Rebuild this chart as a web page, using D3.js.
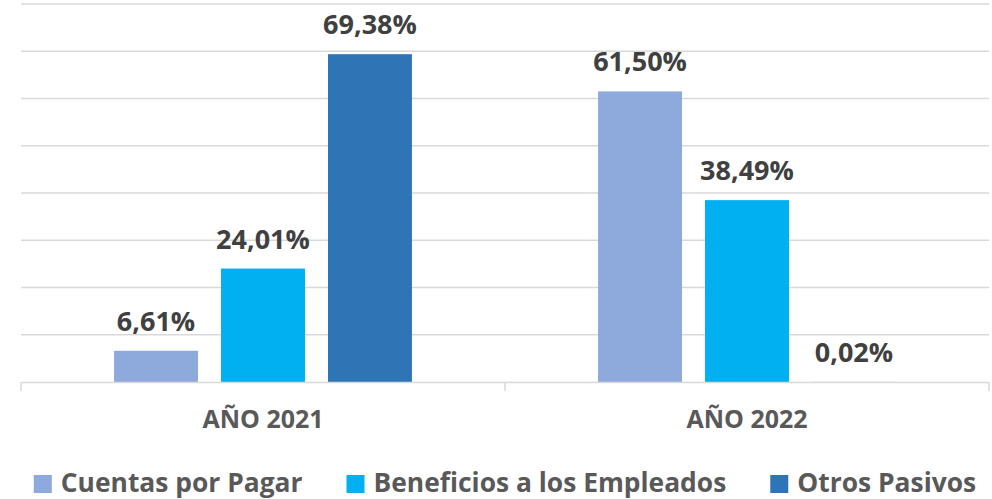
<!DOCTYPE html>
<html><head><meta charset="utf-8">
<script src="https://cdn.jsdelivr.net/npm/d3@7"></script>
<style>body{margin:0;background:#fff}svg{display:block}text{font-family:"Open Sans",sans-serif;font-weight:700}</style>
</head><body><svg id="c" width="992" height="499"></svg>
<script>
const categories = ["AÑO 2021", "AÑO 2022"];
const seriesNames = ["Cuentas por Pagar", "Beneficios a los Empleados", "Otros Pasivos"];
const cuentasPorPagar = [6.61, 61.50];
const beneficiosEmpleados = [24.01, 38.49];
const otrosPasivos = [69.38, 0.02];
const yTicks = [0, 10, 20, 30, 40, 50, 60, 70, 80];
const colors = ["#8EA9DB", "#00B0F0", "#2E75B6"];

const seriesValues = [cuentasPorPagar, beneficiosEmpleados, otrosPasivos];
const svg = d3.select("#c");
const m = {l: 21, r: 3, t: 4, b: 117};
const W = 992, H = 499;
const x0 = d3.scaleBand().domain(categories).range([m.l, W - m.r]).paddingInner(0).paddingOuter(0);
const x1 = d3.scaleBand().domain(seriesNames).range([0, x0.bandwidth()]).paddingInner(0.215).paddingOuter(0.87);
const y = d3.scaleLinear().domain([0, 80]).range([H - m.b, m.t]);

// gridlines
svg.append("g").selectAll("line").data(yTicks.slice(1)).join("line")
  .attr("x1", m.l).attr("x2", W - m.r)
  .attr("y1", d => y(d)).attr("y2", d => y(d))
  .attr("stroke", "#D9D9D9").attr("stroke-width", 1.5);

// bars
const groups = svg.append("g").selectAll("g").data(categories).join("g")
  .attr("transform", c => `translate(${x0(c)},0)`);
groups.selectAll("rect").data((c, ci) => seriesNames.map((s, si) => ({s, si, v: seriesValues[si][ci]})))
  .join("rect")
  .attr("x", d => x1(d.s)).attr("width", x1.bandwidth())
  .attr("y", d => y(d.v)).attr("height", d => y(0) - y(d.v))
  .attr("fill", d => colors[d.si]);
groups.selectAll("text").data((c, ci) => seriesNames.map((s, si) => ({s, si, v: seriesValues[si][ci]})))
  .join("text")
  .attr("x", d => x1(d.s) + x1.bandwidth() / 2)
  .attr("y", d => y(d.v) - 20)
  .attr("text-anchor", "middle").attr("fill", "#404040").attr("font-size", 27)
  .text(d => d.v.toFixed(2).replace(".", ",") + "%");

// x axis
const xAxis = svg.append("g").attr("transform", `translate(0,${y(0)})`)
  .call(d3.axisBottom(x0).tickSize(0).tickPadding(0).tickFormat(""));
xAxis.select(".domain").attr("stroke", "#D9D9D9").attr("stroke-width", 1.5);
xAxis.selectAll(".tick").remove();
const bounds = [m.l, ...categories.map(c => x0(c) + x0.bandwidth())];
xAxis.selectAll("line.sep").data(bounds).join("line").attr("class", "sep")
  .attr("x1", d => d).attr("x2", d => d).attr("y1", 0).attr("y2", 9)
  .attr("stroke", "#D9D9D9").attr("stroke-width", 1.5);
xAxis.selectAll("text.cat").data(categories).join("text").attr("class", "cat")
  .attr("x", c => x0(c) + x0.bandwidth() / 2).attr("y", 46)
  .attr("text-anchor", "middle").attr("fill", "#595959").attr("font-size", 25)
  .text(c => c);

// legend
const lg = svg.append("g");
const items = lg.selectAll("g").data(seriesNames).join("g");
items.append("rect").attr("width", 18).attr("height", 18).attr("y", -17).attr("fill", (d, i) => colors[i]);
items.append("text").attr("x", 27).attr("y", 0).attr("fill", "#595959").attr("font-size", 26.4).text(d => d);
const widths = [];
items.each(function() { widths.push(this.getBBox().width); });
const gap = 44;
const total = d3.sum(widths) + gap * (widths.length - 1);
let cx = (m.l + W - m.r) / 2 - total / 2;
items.attr("transform", (d, i) => { const t = `translate(${cx},492)`; cx += widths[i] + gap; return t; });
</script></body></html>
